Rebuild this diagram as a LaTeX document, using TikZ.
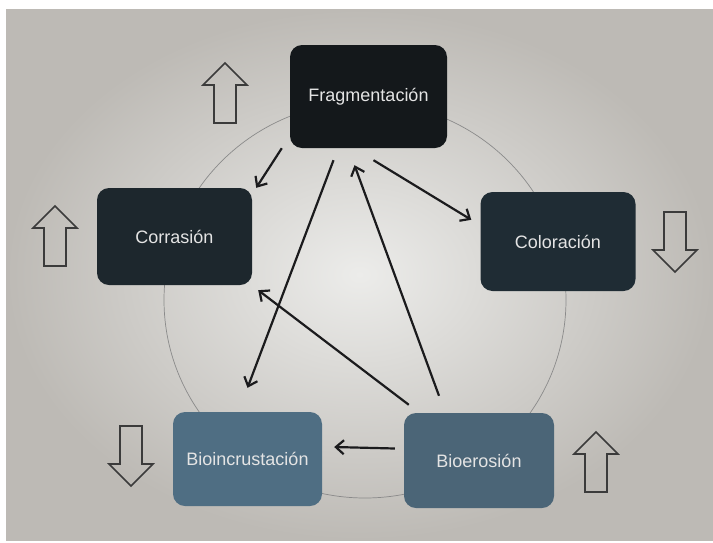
\documentclass[tikz,border=0pt]{standalone}
\usepackage{fontspec}
\setmainfont{Liberation Sans}
\usepackage{xcolor}
\usepackage{tikz}
\usetikzlibrary{arrows.meta}

\definecolor{fragfill}{HTML}{14181B}
\definecolor{corrfill}{HTML}{1D272D}
\definecolor{colofill}{HTML}{1F2C34}
\definecolor{incrfill}{HTML}{4F6E83}
\definecolor{erosfill}{HTML}{4B6577}
\definecolor{stagetext}{HTML}{E4E4E4}
\definecolor{linkcol}{HTML}{1B1B1D}
\definecolor{outlinecol}{HTML}{3B3B3B}
\definecolor{ringcol}{HTML}{8A8A8A}
\definecolor{screenin}{HTML}{ECECEA}
\definecolor{screenout}{HTML}{BDBAB5}

\begin{document}
\begin{tikzpicture}[x=1pt,y=-1pt,
		stage/.style={rounded corners=12pt, text=stagetext, inner sep=0pt, font=\fontsize{18}{22}\selectfont},
		link/.style={draw=linkcol, line width=2.2pt, -{Straight Barb[length=8pt,width=14pt]}},
		blockline/.style={draw=outlinecol, line width=1.6pt},
		blockup/.pic={\draw[blockline] (-11,30) -- (11,30) -- (11,-8) -- (22,-8) -- (0,-30) -- (-22,-8) -- (-11,-8) -- cycle;}]
		\useasboundingbox (0,0) rectangle (713,542);
		\fill[white] (0,0) rectangle (713,542);
		\shade[inner color=screenin, outer color=screenout] (6,9) rectangle (713,540);
		
		\draw[ringcol, line width=0.7pt] (365,300) ellipse [x radius=201, y radius=198];
		
		\node[stage, fill=fragfill, minimum width=157pt, minimum height=103pt] (frag) at (368.5,96.5) {Fragmentación};
		\node[stage, fill=corrfill, minimum width=155pt, minimum height=97pt] (corr) at (174.5,236.5) {Corrasión};
		\node[stage, fill=colofill, minimum width=155pt, minimum height=99pt] (colo) at (558,241.5) {Coloración};
		\node[stage, fill=incrfill, minimum width=149pt, minimum height=94pt] (incr) at (247.5,459) {Bioincrustación};
		\node[stage, fill=erosfill, minimum width=150pt, minimum height=95pt] (eros) at (479,460.5) {Bioerosión};
		
		\draw[link] ([xshift=-8pt]frag.south west) -- ([xshift=4pt]corr.north east);
		\draw[link] ([xshift=-35pt,yshift=-12pt]frag.south) -- ([yshift=24pt]incr.north);
		\draw[link] ([xshift=-40pt,yshift=17pt]eros.north) -- ([xshift=-14pt,yshift=-17pt]frag.south);
		\draw[link] ([xshift=5pt,yshift=-12pt]frag.south) -- ([xshift=-9pt,yshift=-28pt]colo.north west);
		\draw[link] ([xshift=5pt,yshift=8pt]eros.north west) -- ([xshift=6pt,yshift=-5pt]corr.south east);
		\draw[link] ([xshift=-9pt,yshift=12pt]eros.west) -- ([xshift=12pt,yshift=12pt]incr.east);
		
		\pic at (225,93) {blockup};
		\pic at (55,236) {blockup};
		\pic[rotate=180] at (675,242) {blockup};
		\pic[rotate=180] at (131,456) {blockup};
		\pic at (596,462) {blockup};
\end{tikzpicture}
\end{document}
